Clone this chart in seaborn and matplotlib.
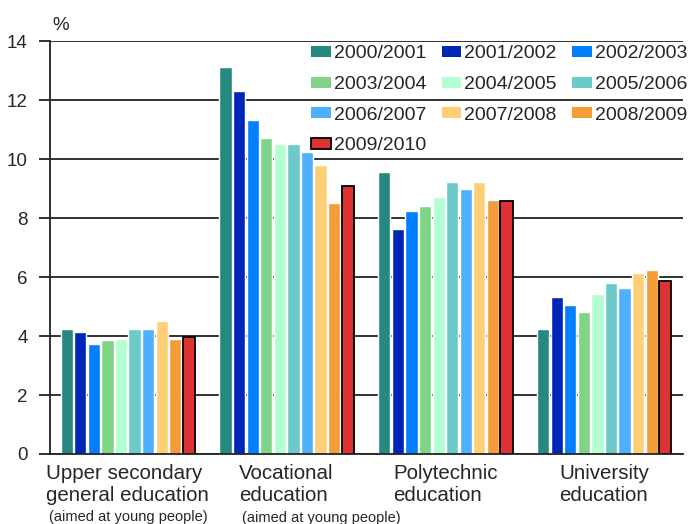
import pandas as pd
import numpy as np
import seaborn as sns
import matplotlib.pyplot as plt
from matplotlib.patches import Patch

levels = ['Upper secondary\ngeneral education', 'Vocational\neducation',
          'Polytechnic\neducation', 'University\neducation']
sub_labels = ['(aimed at young people)', '(aimed at young people)', '', '']
years = ['2000/2001', '2001/2002', '2002/2003', '2003/2004', '2004/2005',
         '2005/2006', '2006/2007', '2007/2008', '2008/2009', '2009/2010']

upper_secondary = [4.23, 4.12, 3.74, 3.86, 3.91, 4.23, 4.23, 4.50, 3.91, 3.98]
vocational = [13.11, 12.30, 11.33, 10.73, 10.50, 10.50, 10.24, 9.80, 8.51, 9.10]
polytechnic = [9.55, 7.64, 8.24, 8.40, 8.72, 9.21, 9.00, 9.21, 8.61, 8.59]
university = [4.24, 5.32, 5.05, 4.83, 5.43, 5.81, 5.64, 6.12, 6.25, 5.88]

colors = ['#268980', '#0026b8', '#0080ff', '#7fd488', '#b3ffd1',
          '#6ccaca', '#4eb0ff', '#ffcf78', '#f39c38', '#de3333']

rows = []
for lev, vals in zip(levels, [upper_secondary, vocational, polytechnic, university]):
    for yr, v in zip(years, vals):
        rows.append({'level': lev, 'year': yr, 'value': v})
df = pd.DataFrame(rows)

sns.set_style('ticks')
plt.rcParams['font.family'] = ['Liberation Sans', 'DejaVu Sans']

fig = plt.figure(figsize=(6.97, 5.24), dpi=100)
ax = fig.add_axes([50 / 697, 1 - 454 / 524, 633 / 697, 413.5 / 524])

sns.barplot(data=df, x='level', y='value', hue='year', palette=colors,
            saturation=1, width=0.855, gap=0.1, legend=False, ax=ax)

# last season gets a black outline like in the original
for bar in ax.containers[-1]:
    bar.set_edgecolor('black')
    bar.set_linewidth(1.3)

ax.set_xlim(-0.49, 3.496)
ax.set_ylim(0, 14.02)
ax.set_yticks(np.arange(0, 15, 2))
ax.yaxis.grid(True, color='#222222', lw=1.3)
ax.set_axisbelow(True)
ax.set_xlabel('')
ax.set_ylabel('')

for s in ['top', 'right']:
    ax.spines[s].set_visible(False)
for s in ['left', 'bottom']:
    ax.spines[s].set_color('#222222')
    ax.spines[s].set_linewidth(1.3)

ax.tick_params(axis='y', length=8, width=1.3, color='#222222', pad=8, labelsize=13.5)
ax.tick_params(axis='x', length=0, pad=7, labelsize=14.8)
ax.set_xticks(range(len(levels)))
ax.set_xticklabels(levels, multialignment='left', linespacing=1.25)

for tl, sub, dy in zip(ax.get_xticklabels(), sub_labels, [-3, -4, 0, 0]):
    if sub:
        ax.annotate(sub, xy=(0, 0), xycoords=tl, xytext=(2, dy),
                    textcoords='offset points', ha='left', va='top', fontsize=10.5)

ax.text(0.003, 1.015, '%', transform=ax.transAxes, fontsize=13.5, ha='left', va='bottom')

handles = [Patch(facecolor=c, edgecolor='black' if i == len(colors) - 1 else c,
                 linewidth=1.3 if i == len(colors) - 1 else 0)
           for i, c in enumerate(colors)]
# legend fills by column, so reorder to read row by row
order = [0, 3, 6, 9, 1, 4, 7, 2, 5, 8]
ax.legend([handles[i] for i in order], [years[i] for i in order], ncol=3,
          frameon=False, loc='upper left', bbox_to_anchor=(0.413, 0.988),
          borderaxespad=0, borderpad=0, fontsize=14, handlelength=1.0,
          handleheight=0.5, handletextpad=0.15, columnspacing=0.8, labelspacing=0.7)

fig.savefig('out.png', dpi=100)
